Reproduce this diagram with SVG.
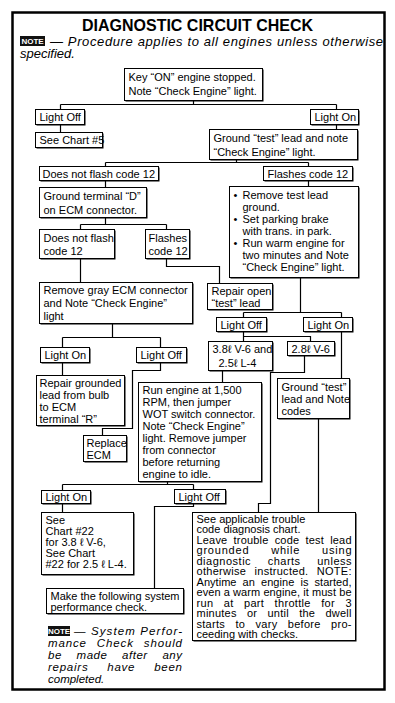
<svg xmlns="http://www.w3.org/2000/svg" width="395" height="703" viewBox="0 0 395 703">
<style>
.b{fill:#fff;stroke:#000;stroke-width:1}
.sh{fill:#000}
.t{font-family:"Liberation Sans",Arial,Helvetica,sans-serif;font-size:11px;fill:#000}
.it{font-family:"Liberation Sans",Arial,Helvetica,sans-serif;font-style:italic;font-size:13px;fill:#000}
.it2{font-family:"Liberation Sans",Arial,Helvetica,sans-serif;font-style:italic;font-size:11.5px;fill:#000}
.badge{fill:#111}
.bt{font-family:"Liberation Sans",Arial,sans-serif;font-weight:bold;font-size:8px;fill:#fff}
.c path{fill:none;stroke:#000;stroke-width:1.2}
</style>
<rect width="395" height="703" fill="#fff"/>
<rect x="12.5" y="12.5" width="372" height="677" fill="none" stroke="#000" stroke-width="2.5"/>
<text x="197.5" y="31" text-anchor="middle" font-family="'Liberation Sans',Arial,sans-serif" font-weight="bold" font-size="17" textLength="231" lengthAdjust="spacingAndGlyphs">DIAGNOSTIC CIRCUIT CHECK</text>
<g id="note-top">
<rect class="badge" x="20" y="36" width="25" height="10"/>
<text class="bt" x="32.5" y="44" text-anchor="middle">NOTE</text>
<text class="it" x="50" y="45.5" textLength="333" lengthAdjust="spacing">— Procedure applies to all engines unless otherwise</text>
<text class="it" x="20" y="57.5">specified.</text>
</g>
<g transform="translate(0.5,0.5)">
<g class="c" id="connectors">
<path d="M193,100V104M60,104H336M60,104V109M336,104V109"/>
<path d="M60,124V132"/>
<path d="M336,124V129"/>
<path d="M236,159V162M105,162H308M105,162V166M308,162V166"/>
<path d="M105,180V187"/>
<path d="M308,180V186"/>
<path d="M105,217V224M80,224H166M80,224V229M166,224V229"/>
<path d="M166,258V266H219V283"/>
<path d="M80,258V282"/>
<path d="M300,277V312M243,312H341M243,312V317M341,312V317"/>
<path d="M112,323V337M62,337H160M62,337V347M160,337V347"/>
<path d="M62,362V375"/>
<path d="M160,362V370H132V428H102V435"/>
<path d="M243,331V336H310V341M243,336V341"/>
<path d="M222,370V382"/>
<path d="M304,355V372H270V503H258V512"/>
<path d="M341,331V378"/>
<path d="M318,418V512"/>
<path d="M167,481V484M62,484H193M62,484V490M193,484V489"/>
<path d="M62,503V512"/>
<path d="M193,503V506H154V588"/>
</g>
<g id="n-key"><rect class="sh" x="125" y="69" width="138" height="32"/><rect class="b" x="124" y="68" width="138" height="32"/>
<text class="t"><tspan x="128" y="80">Key “ON” engine stopped.</tspan><tspan x="128" y="94">Note “Check Engine” light.</tspan></text></g>
<g id="n-off1"><rect class="sh" x="36" y="110" width="49" height="15"/><rect class="b" x="35" y="109" width="49" height="15"/>
<text class="t" x="39" y="120.5">Light Off</text></g>
<g id="n-on1"><rect class="sh" x="311" y="110" width="48" height="15"/><rect class="b" x="310" y="109" width="48" height="15"/>
<text class="t" x="314" y="120.5">Light On</text></g>
<g id="n-chart5"><rect class="sh" x="36" y="133" width="67" height="15"/><rect class="b" x="35" y="132" width="67" height="15"/>
<text class="t" x="39" y="143.5">See Chart #5</text></g>
<g id="n-groundtest"><rect class="sh" x="210" y="130" width="148" height="30"/><rect class="b" x="209" y="129" width="148" height="30"/>
<text class="t"><tspan x="213" y="141">Ground “test” lead and note</tspan><tspan x="213" y="155">“Check Engine” light.</tspan></text></g>
<g id="n-noflash1"><rect class="sh" x="40" y="167" width="119" height="14"/><rect class="b" x="39" y="166" width="119" height="14"/>
<text class="t" x="42" y="177">Does not flash code 12</text></g>
<g id="n-flash1"><rect class="sh" x="264" y="167" width="89" height="14"/><rect class="b" x="263" y="166" width="89" height="14"/>
<text class="t" x="267" y="177">Flashes code 12</text></g>
<g id="n-terminalD"><rect class="sh" x="40" y="188" width="107" height="30"/><rect class="b" x="39" y="187" width="107" height="30"/>
<text class="t"><tspan x="43" y="199">Ground terminal “D”</tspan><tspan x="43" y="213">on ECM connector.</tspan></text></g>
<g id="n-noflash2"><rect class="sh" x="40" y="230" width="75" height="29"/><rect class="b" x="39" y="229" width="75" height="29"/>
<text class="t"><tspan x="43" y="241">Does not flash</tspan><tspan x="43" y="254">code 12</tspan></text></g>
<g id="n-flash2"><rect class="sh" x="146" y="230" width="44" height="29"/><rect class="b" x="145" y="229" width="44" height="29"/>
<text class="t"><tspan x="148" y="241">Flashes</tspan><tspan x="148" y="254">code 12</tspan></text></g>
<g id="n-removetest"><rect class="sh" x="230" y="187" width="129" height="91"/><rect class="b" x="229" y="186" width="129" height="91"/>
<text class="t"><tspan x="233" y="198">•</tspan><tspan x="242" y="198">Remove test lead</tspan><tspan x="242" y="210">ground.</tspan><tspan x="233" y="222">•</tspan><tspan x="242" y="222">Set parking brake</tspan><tspan x="242" y="234">with trans. in park.</tspan><tspan x="233" y="246">•</tspan><tspan x="242" y="246">Run warm engine for</tspan><tspan x="242" y="258">two minutes and Note</tspan><tspan x="242" y="270">“Check Engine” light.</tspan></text></g>
<g id="n-repairopen"><rect class="sh" x="208" y="284" width="65" height="26"/><rect class="b" x="207" y="283" width="65" height="26"/>
<text class="t"><tspan x="211" y="294">Repair open</tspan><tspan x="211" y="306">“test” lead</tspan></text></g>
<g id="n-removegray"><rect class="sh" x="40" y="283" width="153" height="41"/><rect class="b" x="39" y="282" width="153" height="41"/>
<text class="t"><tspan x="43" y="293">Remove gray ECM connector</tspan><tspan x="43" y="306">and Note “Check Engine”</tspan><tspan x="43" y="319">light</tspan></text></g>
<g id="n-off2"><rect class="sh" x="217" y="318" width="50" height="14"/><rect class="b" x="216" y="317" width="50" height="14"/>
<text class="t" x="220" y="328.5">Light Off</text></g>
<g id="n-on2"><rect class="sh" x="304" y="318" width="49" height="14"/><rect class="b" x="303" y="317" width="49" height="14"/>
<text class="t" x="307" y="328.5">Light On</text></g>
<g id="n-on3"><rect class="sh" x="41" y="348" width="49" height="15"/><rect class="b" x="40" y="347" width="49" height="15"/>
<text class="t" x="44" y="358.5">Light On</text></g>
<g id="n-off3"><rect class="sh" x="137" y="348" width="50" height="15"/><rect class="b" x="136" y="347" width="50" height="15"/>
<text class="t" x="140" y="358.5">Light Off</text></g>
<g id="n-38"><rect class="sh" x="209" y="342" width="64" height="29"/><rect class="b" x="208" y="341" width="64" height="29"/>
<text class="t"><tspan x="212" y="352">3.8ℓ V-6 and</tspan><tspan x="218" y="366">2.5ℓ L-4</tspan></text></g>
<g id="n-28"><rect class="sh" x="288" y="342" width="47" height="14"/><rect class="b" x="287" y="341" width="47" height="14"/>
<text class="t" x="291" y="352">2.8ℓ V-6</text></g>
<g id="n-repairground"><rect class="sh" x="37" y="376" width="88" height="50"/><rect class="b" x="36" y="375" width="88" height="50"/>
<text class="t"><tspan x="39" y="386">Repair grounded</tspan><tspan x="39" y="398">lead from bulb</tspan><tspan x="39" y="410">to ECM</tspan><tspan x="39" y="422">terminal “R”</tspan></text></g>
<g id="n-replace"><rect class="sh" x="84" y="436" width="43" height="26"/><rect class="b" x="83" y="435" width="43" height="26"/>
<text class="t"><tspan x="86" y="446">Replace</tspan><tspan x="86" y="458">ECM</tspan></text></g>
<g id="n-runengine"><rect class="sh" x="139" y="383" width="123" height="99"/><rect class="b" x="138" y="382" width="123" height="99"/>
<text class="t"><tspan x="142" y="393">Run engine at 1,500</tspan><tspan x="142" y="405">RPM, then jumper</tspan><tspan x="142" y="417">WOT switch connector.</tspan><tspan x="142" y="429">Note “Check Engine”</tspan><tspan x="142" y="441">light. Remove jumper</tspan><tspan x="142" y="453">from connector</tspan><tspan x="142" y="465">before returning</tspan><tspan x="142" y="477">engine to idle.</tspan></text></g>
<g id="n-groundcodes"><rect class="sh" x="278" y="379" width="72" height="40"/><rect class="b" x="277" y="378" width="72" height="40"/>
<text class="t"><tspan x="281" y="390">Ground “test”</tspan><tspan x="281" y="402">lead and Note</tspan><tspan x="281" y="414">codes</tspan></text></g>
<g id="n-on4"><rect class="sh" x="42" y="491" width="49" height="13"/><rect class="b" x="41" y="490" width="49" height="13"/>
<text class="t" x="45" y="500.5">Light On</text></g>
<g id="n-off4"><rect class="sh" x="175" y="490" width="51" height="14"/><rect class="b" x="174" y="489" width="51" height="14"/>
<text class="t" x="178" y="500.5">Light Off</text></g>
<g id="n-chart22"><rect class="sh" x="42" y="513" width="92" height="62"/><rect class="b" x="41" y="512" width="92" height="62"/>
<text class="t"><tspan x="45" y="523">See</tspan><tspan x="45" y="534">Chart #22</tspan><tspan x="45" y="545">for 3.8 ℓ V-6,</tspan><tspan x="45" y="556">See Chart</tspan><tspan x="45" y="567">#22 for 2.5 ℓ L-4.</tspan></text></g>
<g id="n-make"><rect class="sh" x="47" y="589" width="137" height="25"/><rect class="b" x="46" y="588" width="137" height="25"/>
<text class="t"><tspan x="50" y="599">Make the following system</tspan><tspan x="50" y="610">performance check.</tspan></text></g>
<g id="n-trouble"><rect class="sh" x="193" y="513" width="163" height="128"/><rect class="b" x="192" y="512" width="163" height="128"/>
<text class="t" x="196" y="522">See applicable trouble</text>
<text class="t" x="196" y="532.5">code diagnosis chart.</text>
<text class="t" x="196" y="543" word-spacing="3" textLength="155" lengthAdjust="spacing">Leave trouble code test lead</text>
<text class="t" x="196" y="553.5" word-spacing="18" textLength="155" lengthAdjust="spacing">grounded while using</text>
<text class="t" x="196" y="564" word-spacing="13" textLength="155" lengthAdjust="spacing">diagnostic charts unless</text>
<text class="t" x="196" y="574.5" word-spacing="5" textLength="155" lengthAdjust="spacing">otherwise instructed. NOTE:</text>
<text class="t" x="196" y="585" word-spacing="3" textLength="155" lengthAdjust="spacing">Anytime an engine is started,</text>
<text class="t" x="196" y="595.5" textLength="155" lengthAdjust="spacing">even a warm engine, it must be</text>
<text class="t" x="196" y="606" word-spacing="7" textLength="155" lengthAdjust="spacing">run at part throttle for 3</text>
<text class="t" x="196" y="616.5" word-spacing="7" textLength="155" lengthAdjust="spacing">minutes or until the dwell</text>
<text class="t" x="196" y="627" word-spacing="7" textLength="155" lengthAdjust="spacing">starts to vary before pro-</text>
<text class="t" x="196" y="637.5">ceeding with checks.</text>
</g>
</g>
<g id="note-bottom">
<rect class="badge" x="48" y="626" width="22" height="10"/>
<text class="bt" x="59" y="634" text-anchor="middle">NOTE</text>
<text class="it2" x="74" y="635" textLength="108" lengthAdjust="spacing">— System Perfor-</text>
<text class="it2" x="48" y="647" word-spacing="6" textLength="134" lengthAdjust="spacing">mance Check should</text>
<text class="it2" x="48" y="659" word-spacing="11" textLength="134" lengthAdjust="spacing">be made after any</text>
<text class="it2" x="48" y="671" word-spacing="15" textLength="134" lengthAdjust="spacing">repairs have been</text>
<text class="it2" x="48" y="683">completed.</text>
</g>
</svg>
